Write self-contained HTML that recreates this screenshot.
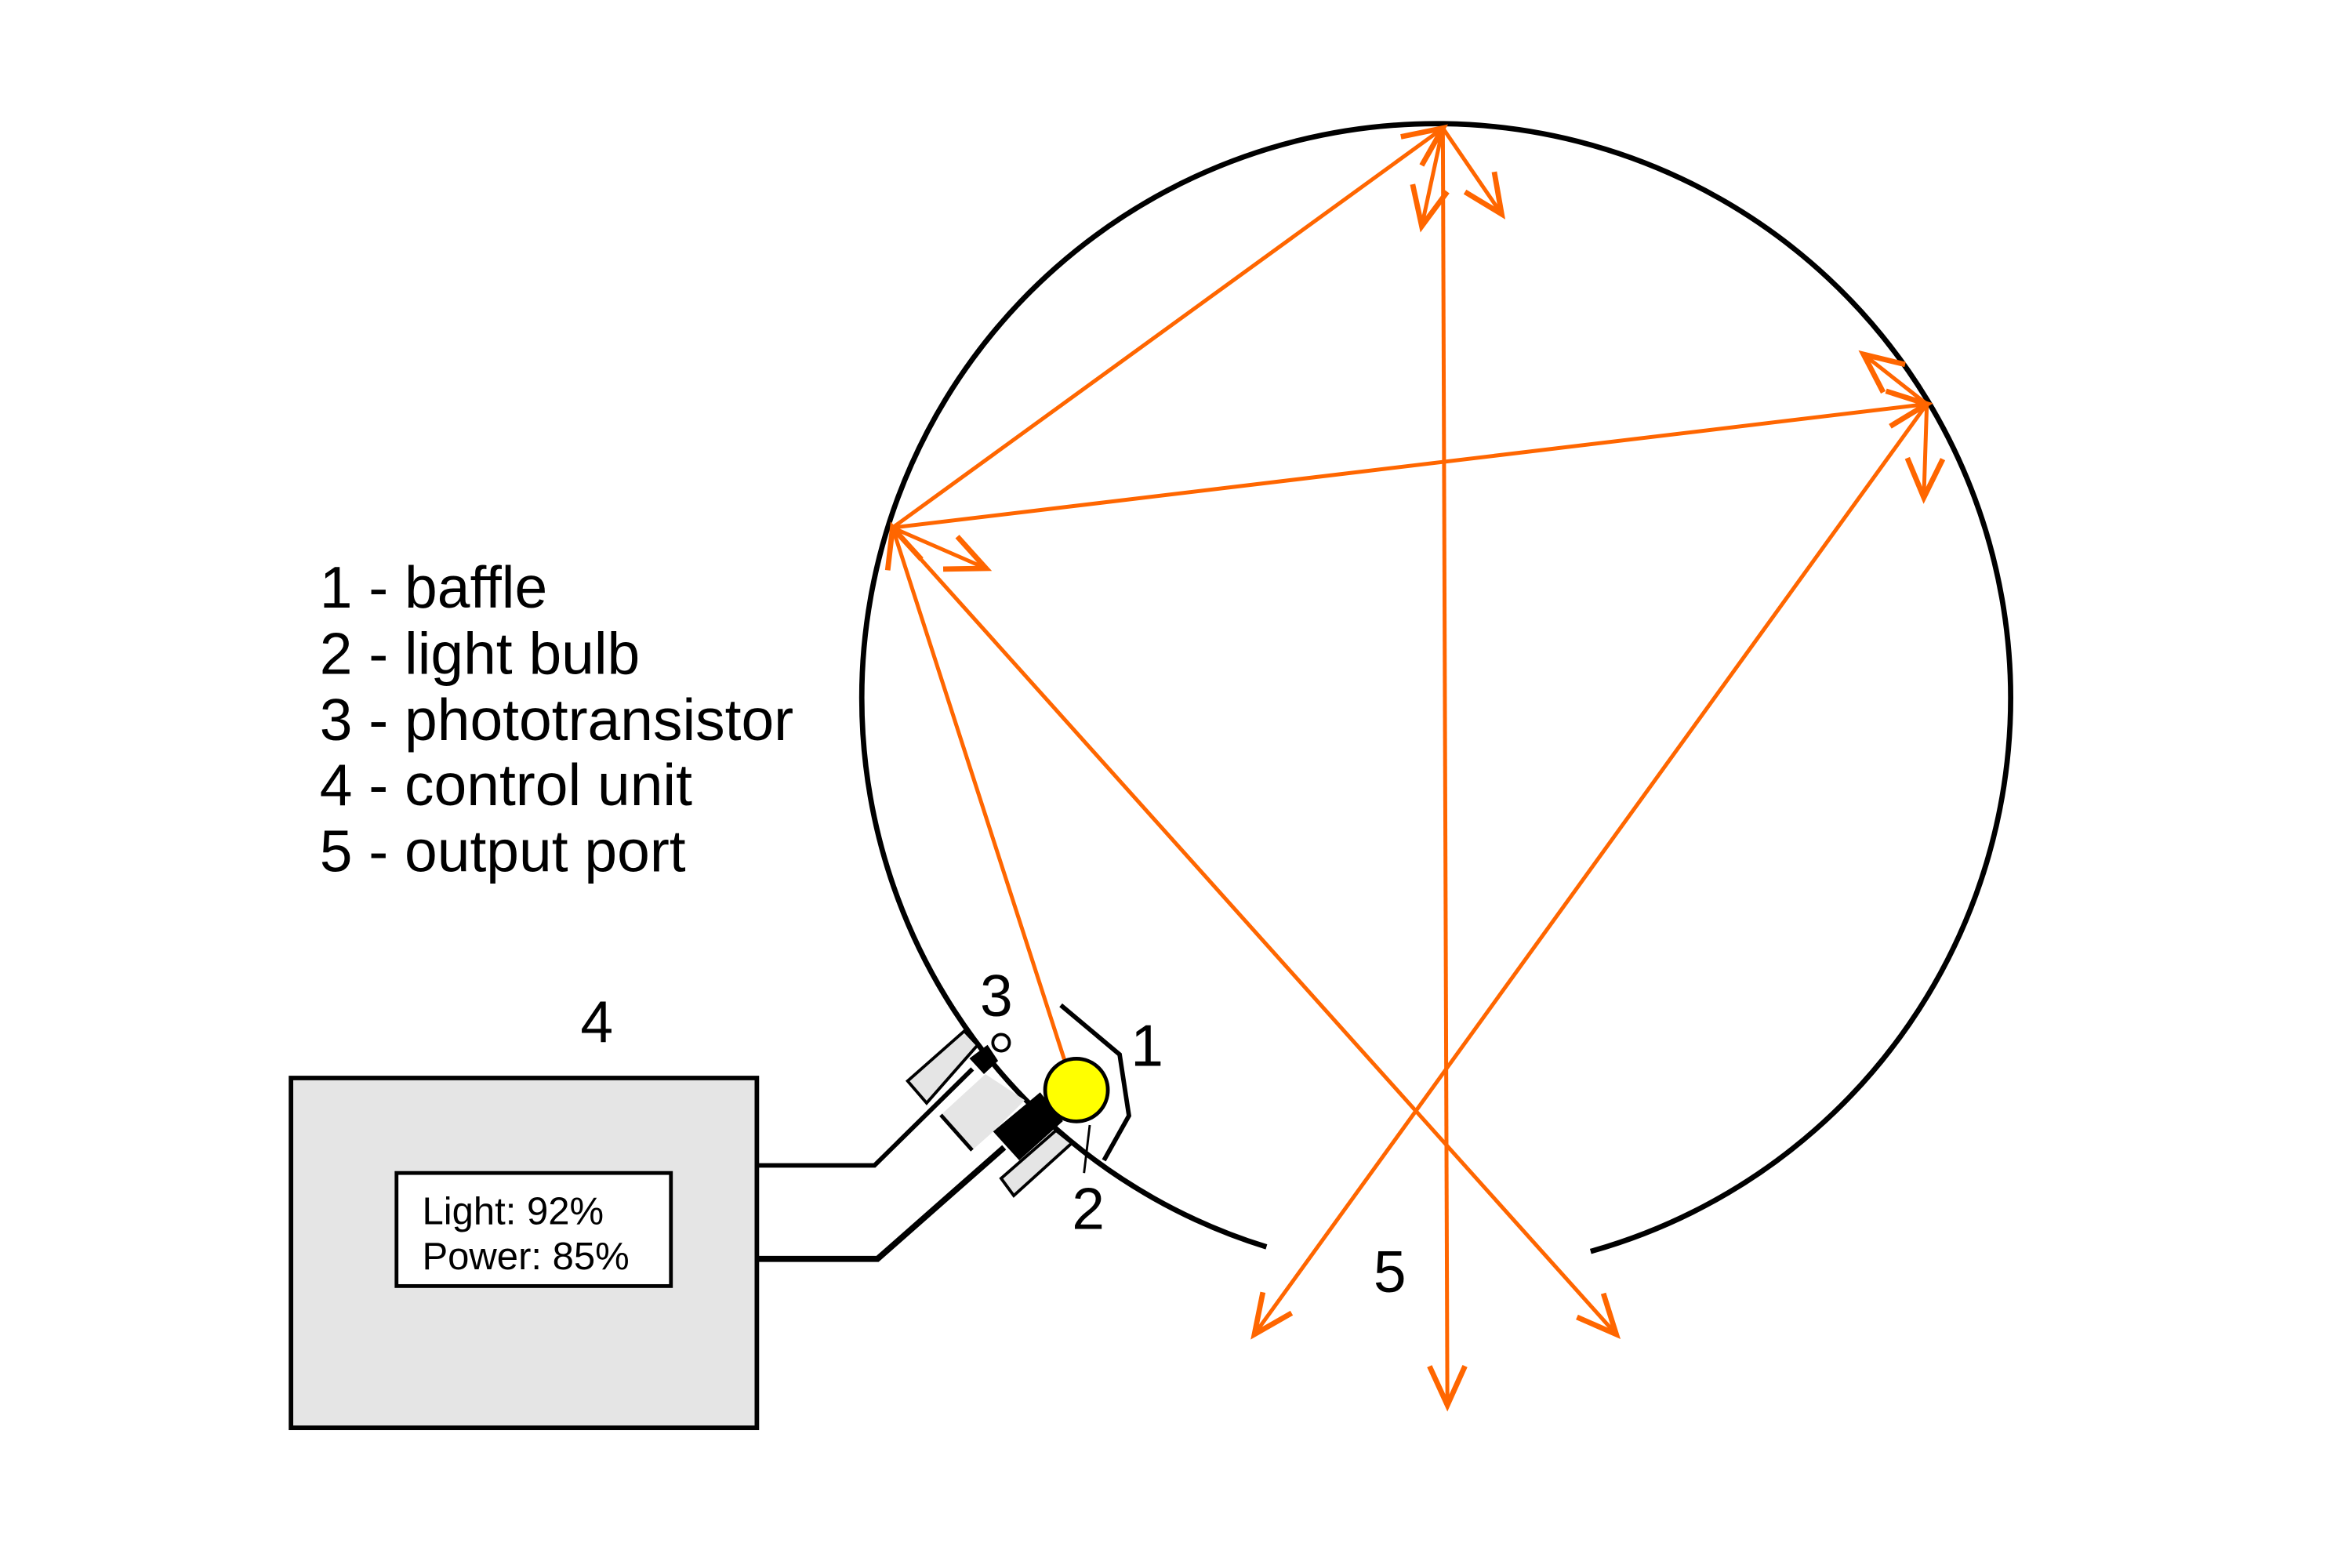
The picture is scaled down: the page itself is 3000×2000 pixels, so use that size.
<!DOCTYPE html>
<html><head><meta charset="utf-8"><style>
html,body{margin:0;padding:0;background:#fff;}
svg{display:block;}
text{font-family:"Liberation Sans",Arial,sans-serif;fill:#000;}
</style></head><body>
<svg width="3000" height="2000" viewBox="0 0 1560 1040" xmlns="http://www.w3.org/2000/svg">
<defs>
<marker id="ah" markerUnits="userSpaceOnUse" markerWidth="40" markerHeight="40" viewBox="-30 -15 34 30" refX="0" refY="0" orient="auto">
<path d="M-22,-10 L0,0 L-22,10" fill="none" stroke="#ff6600" stroke-width="3"/>
</marker>
</defs>
<rect width="1560" height="1040" fill="#fff"/>
<path d="M1055,830 A381,381 0 1 0 840,827" fill="none" stroke="#000" stroke-width="3.5"/>
<g stroke="#ff6600" stroke-width="2.6" fill="none" marker-end="url(#ah)">
<path d="M706,703 L592,350"/>
<path d="M592,350 L957,85"/>
<path d="M957,85 L960,932"/>
<path d="M957,85 L943,150"/>
<path d="M957,85 L996,142"/>
<path d="M592,350 L1278,268"/>
<path d="M1278,268 L1236,235"/>
<path d="M1278,268 L1276,330"/>
<path d="M1278,268 L832,885"/>
<path d="M592,350 L1072,885"/>
<path d="M592,350 L654,377"/>
</g>
<g font-size="39">
<text x="212" y="403">1 - baffle</text>
<text x="212" y="447">2 - light bulb</text>
<text x="212" y="491">3 - phototransistor</text>
<text x="212" y="534">4 - control unit</text>
<text x="212" y="578">5 - output port</text>
<text x="385" y="691">4</text>
<text x="911" y="857">5</text>
<text x="650" y="674">3</text>
<text x="750" y="707">1</text>
<text x="711" y="815">2</text>
</g>
<rect x="193" y="715" width="309" height="232" fill="#e5e5e5" stroke="#000" stroke-width="3"/>
<rect x="263" y="778" width="182" height="75" fill="#fff" stroke="#000" stroke-width="2.5"/>
<text x="280" y="812" font-size="25.5">Light: 92%</text>
<text x="280" y="842" font-size="25.5">Power: 85%</text>
<path d="M502,773 L580,773 L645,709" fill="none" stroke="#000" stroke-width="3"/>
<path d="M502,835 L582,835 L666,761" fill="none" stroke="#000" stroke-width="4"/>
<polygon points="602,717 639.6,683.8 648.4,693.2 614.6,731.6" fill="#e5e5e5" stroke="#000" stroke-width="2"/>
<polygon points="624,739.5 653.6,712.4 679.7,729.7 658.9,750.4 644.8,762.9" fill="#e5e5e5"/>
<path d="M624,739.5 L644.8,762.9" stroke="#000" stroke-width="2.5"/>
<polygon points="664,781.6 700.4,749.8 710.9,758.2 672.4,793" fill="#e5e5e5" stroke="#000" stroke-width="2"/>
<polygon points="643,702 655,693 662,703.6 652.6,712.4" fill="#000"/>
<circle cx="664" cy="691.6" r="5.5" fill="#fff" stroke="#000" stroke-width="2"/>
<polygon points="658.7,750.5 689.9,724.5 705,743.6 676,769.6" fill="#000"/>
<circle cx="714" cy="723" r="20.8" fill="#ffff00" stroke="#000" stroke-width="2.5"/>
<path d="M703.6,666.7 L742.6,699.4 L748.8,740 L732.2,769.6" fill="none" stroke="#000" stroke-width="3"/>
<path d="M722.8,746.2 L719,778" stroke="#000" stroke-width="1.5"/>
</svg>
</body></html>
